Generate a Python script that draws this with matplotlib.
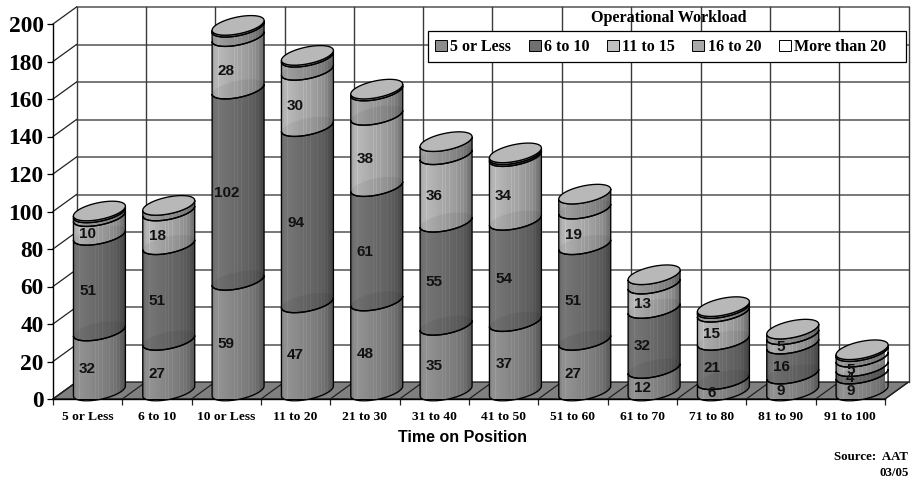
import numpy as np
import matplotlib
matplotlib.use("Agg")
import matplotlib.pyplot as plt
from matplotlib.patches import Polygon, Rectangle, Patch

categories = ["5 or Less", "6 to 10", "10 or Less", "11 to 20", "21 to 30", "31 to 40",
              "41 to 50", "51 to 60", "61 to 70", "71 to 80", "81 to 90", "91 to 100"]
series_names = ["5 or Less", "6 to 10", "11 to 15", "16 to 20", "More than 20"]
s_5_or_less = [32, 27, 59, 47, 48, 35, 37, 27, 12, 6, 9, 9]
s_6_to_10 = [51, 51, 102, 94, 61, 55, 54, 51, 32, 21, 16, 4]
s_11_to_15 = [10, 18, 28, 30, 38, 36, 34, 19, 13, 15, 5, 5]
s_16_to_20 = [2, 3, 5, 7, 13, 7, 1, 8, 5, 2, 3, 3]
s_over_20 = [1, 0, 1, 1, 1, 0, 1, 0, 0, 1, 0, 1]
y_ticks = [0, 20, 40, 60, 80, 100, 120, 140, 160, 180, 200]
series_colors = ["#8c8c8c", "#707070", "#c0c0c0", "#a8a8a8", "#ffffff"]
body_scale = [1.0, 1.0, 0.92, 0.95, 1.0]
cap_color = "#b8b8b8"

W, H = 911, 483
L, R_, B, T = 53.0, 885.0, 399.0, 24.0
fig = plt.figure(figsize=(W / 100, H / 100), dpi=100, facecolor="white")
ax = fig.add_axes([L / W, 1 - B / H, (R_ - L) / W, (B - T) / H])
ax.set_xlim(0, 12)
ax.set_ylim(0, 200)
ax.set_autoscale_on(False)
ax.patch.set_visible(False)
for side in ("top", "right"):
    ax.spines[side].set_visible(False)
for side in ("left", "bottom"):
    ax.spines[side].set_linewidth(1.0)
    ax.spines[side].set_zorder(4)

SERIF = "Liberation Serif"
SANS = "Liberation Sans"

pxx = (R_ - L) / 12
pxy = (B - T) / 200
DX, DY = 23.5 / pxx, 17.0 / pxy      # chart depth in data units

# ---- walls and floor
ax.add_patch(Polygon([(0, 0), (DX, DY), (12 + DX, DY), (12, 0)], closed=True, fc="#808080",
                     ec="#111111", lw=0.9, zorder=2, clip_on=False))
for v in y_ticks:
    if v > 0:
        ax.plot([DX, 12 + DX], [v + DY, v + DY], color="#5a5a5a", lw=1.15, zorder=1, clip_on=False)
    ax.plot([0, DX], [v, v + DY], color="#222222", lw=0.9, zorder=1, clip_on=False)
for i in range(13):
    ax.plot([i + DX, i + DX], [DY, 200 + DY], color="#3a3a3a", lw=1.0, zorder=1, clip_on=False)
    ax.plot([i, i + DX], [0, DY], color="#222222", lw=0.9, zorder=3, clip_on=False)

# ---- cylinders
rx = 22.5 / pxx      # circle half-width
sx = 13.0 / pxx      # depth shear, x
sy = 9.8 / pxy       # depth shear, y
t_r = np.arctan2(13.0, 22.5)
half_x = np.hypot(rx, sx)

u_knots = [0.0, 0.06, 0.16, 0.40, 0.65, 0.85, 1.0]
m_knots = [0.85, 1.02, 1.04, 0.96, 0.90, 0.80, 0.62]
stripes_light = [0.13, 0.43, 0.50, 0.58, 0.66, 0.71, 0.78, 0.84, 0.90]
u = np.linspace(0, 1, 104)
mult = np.interp(u, u_knots, m_knots)
for s in stripes_light:
    mult[np.abs(u - s) < 0.008] *= 1.08
mult = mult[None, :]


def rim(center, v, t):
    return np.column_stack([center + rx * np.cos(t) + sx * np.sin(t), v + sy * np.sin(t)])


front = np.linspace(t_r + np.pi, t_r + 2 * np.pi, 60)
full = np.linspace(0, 2 * np.pi, 120)
stack = np.array([s_5_or_less, s_6_to_10, s_11_to_15, s_16_to_20, s_over_20], dtype=float)

for i in range(len(categories)):
    cx = i + 0.5 + DX / 2
    cy = DY / 2 - 0.5 / pxy
    z = 10 + i
    base = cy
    for k in range(stack.shape[0]):
        val = stack[k, i]
        if val <= 0:
            continue
        low, high = base, base + val
        pts = np.vstack([rim(cx, low, front), rim(cx, high, front)[::-1]])
        poly = Polygon(pts, closed=True, fc="none", ec="black", lw=0.95, zorder=z + 0.3, clip_on=False)
        ax.add_patch(poly)
        rgb = np.array(matplotlib.colors.to_rgb(series_colors[k])) * body_scale[k]
        img = np.clip(mult[:, :, None] * rgb[None, None, :], 0, 1)
        im = ax.imshow(img, extent=(cx - half_x, cx + half_x, low - sy, high + sy),
                       aspect="auto", interpolation="nearest", zorder=z + 0.1, origin="lower")
        im.set_clip_path(Polygon(pts, closed=True, transform=ax.transData))
        if k > 0:
            shade = Polygon(rim(cx, low, full), closed=True, fc="black", ec="none",
                            alpha=0.06, zorder=z + 0.2)
            ax.add_patch(shade)
        base = high
    ax.add_patch(Polygon(rim(cx, base, full), closed=True, fc=cap_color, ec="black", lw=0.95,
                         zorder=z + 0.4, clip_on=False))

# ---- value labels, on the front plane
for i in range(len(categories)):
    base = 0
    for k in range(3):
        val = stack[k, i]
        ax.text(i + 0.5, base + val / 2, f"{int(val)}", ha="center", va="center", family=SANS,
                weight="bold", fontsize=11, color="#111111", zorder=40)
        base += val

# ---- axes
ax.set_yticks(y_ticks)
ax.set_xticks(np.arange(13))
ax.set_xticklabels([])
ax.set_xticks(np.arange(12) + 0.5, minor=True)
ax.set_xticklabels(categories, minor=True, family=SERIF, weight="bold", fontsize=9.7)
ax.tick_params(axis="x", which="major", length=4.5, width=0.9, color="#222222")
ax.tick_params(axis="x", which="minor", length=0, pad=8.5)
ax.tick_params(axis="y", length=4.3, width=0.9, pad=2.5)
for lab in ax.get_yticklabels():
    lab.set_family(SERIF)
    lab.set_weight("bold")
    lab.set_fontsize(16.8)
ax.set_xlabel("Time on Position", family=SANS, weight="bold", fontsize=11.5)
ax.xaxis.set_label_coords((462 - L) / (R_ - L), (B - 438) / (B - T))
ax.xaxis.label.set_va("center")

# ---- legend
fig.add_artist(Rectangle((428 / W, 1 - 62 / H), 477.7 / W, 31 / H, transform=fig.transFigure,
                         fc="white", ec="black", lw=0.9, zorder=50))
handles = [Patch(fc=c, ec="black", lw=0.7) for c in series_colors]
leg = fig.legend(handles, series_names, loc="center left",
                 bbox_to_anchor=(435 / W, 1 - 46.8 / H), bbox_transform=fig.transFigure,
                 ncol=5, frameon=False, borderpad=0, borderaxespad=0,
                 handlelength=0.75, handleheight=0.72, handletextpad=0.2, columnspacing=1.1,
                 prop={"family": SERIF, "weight": "bold", "size": 11.5})
leg.set_zorder(51)
fig.text(669 / W, 1 - 18.5 / H, "Operational Workload", ha="center", va="center",
         family=SERIF, weight="bold", fontsize=11.6, zorder=51)

# ---- source note
fig.text(834 / W, 1 - 457 / H, "Source:  AAT", ha="left", va="center", family=SERIF,
         weight="bold", fontsize=9.3)
fig.text(880 / W, 1 - 473 / H, "03/05", ha="left", va="center", family=SERIF,
         weight="bold", fontsize=9.3)

fig.savefig("out.png", dpi=100)
